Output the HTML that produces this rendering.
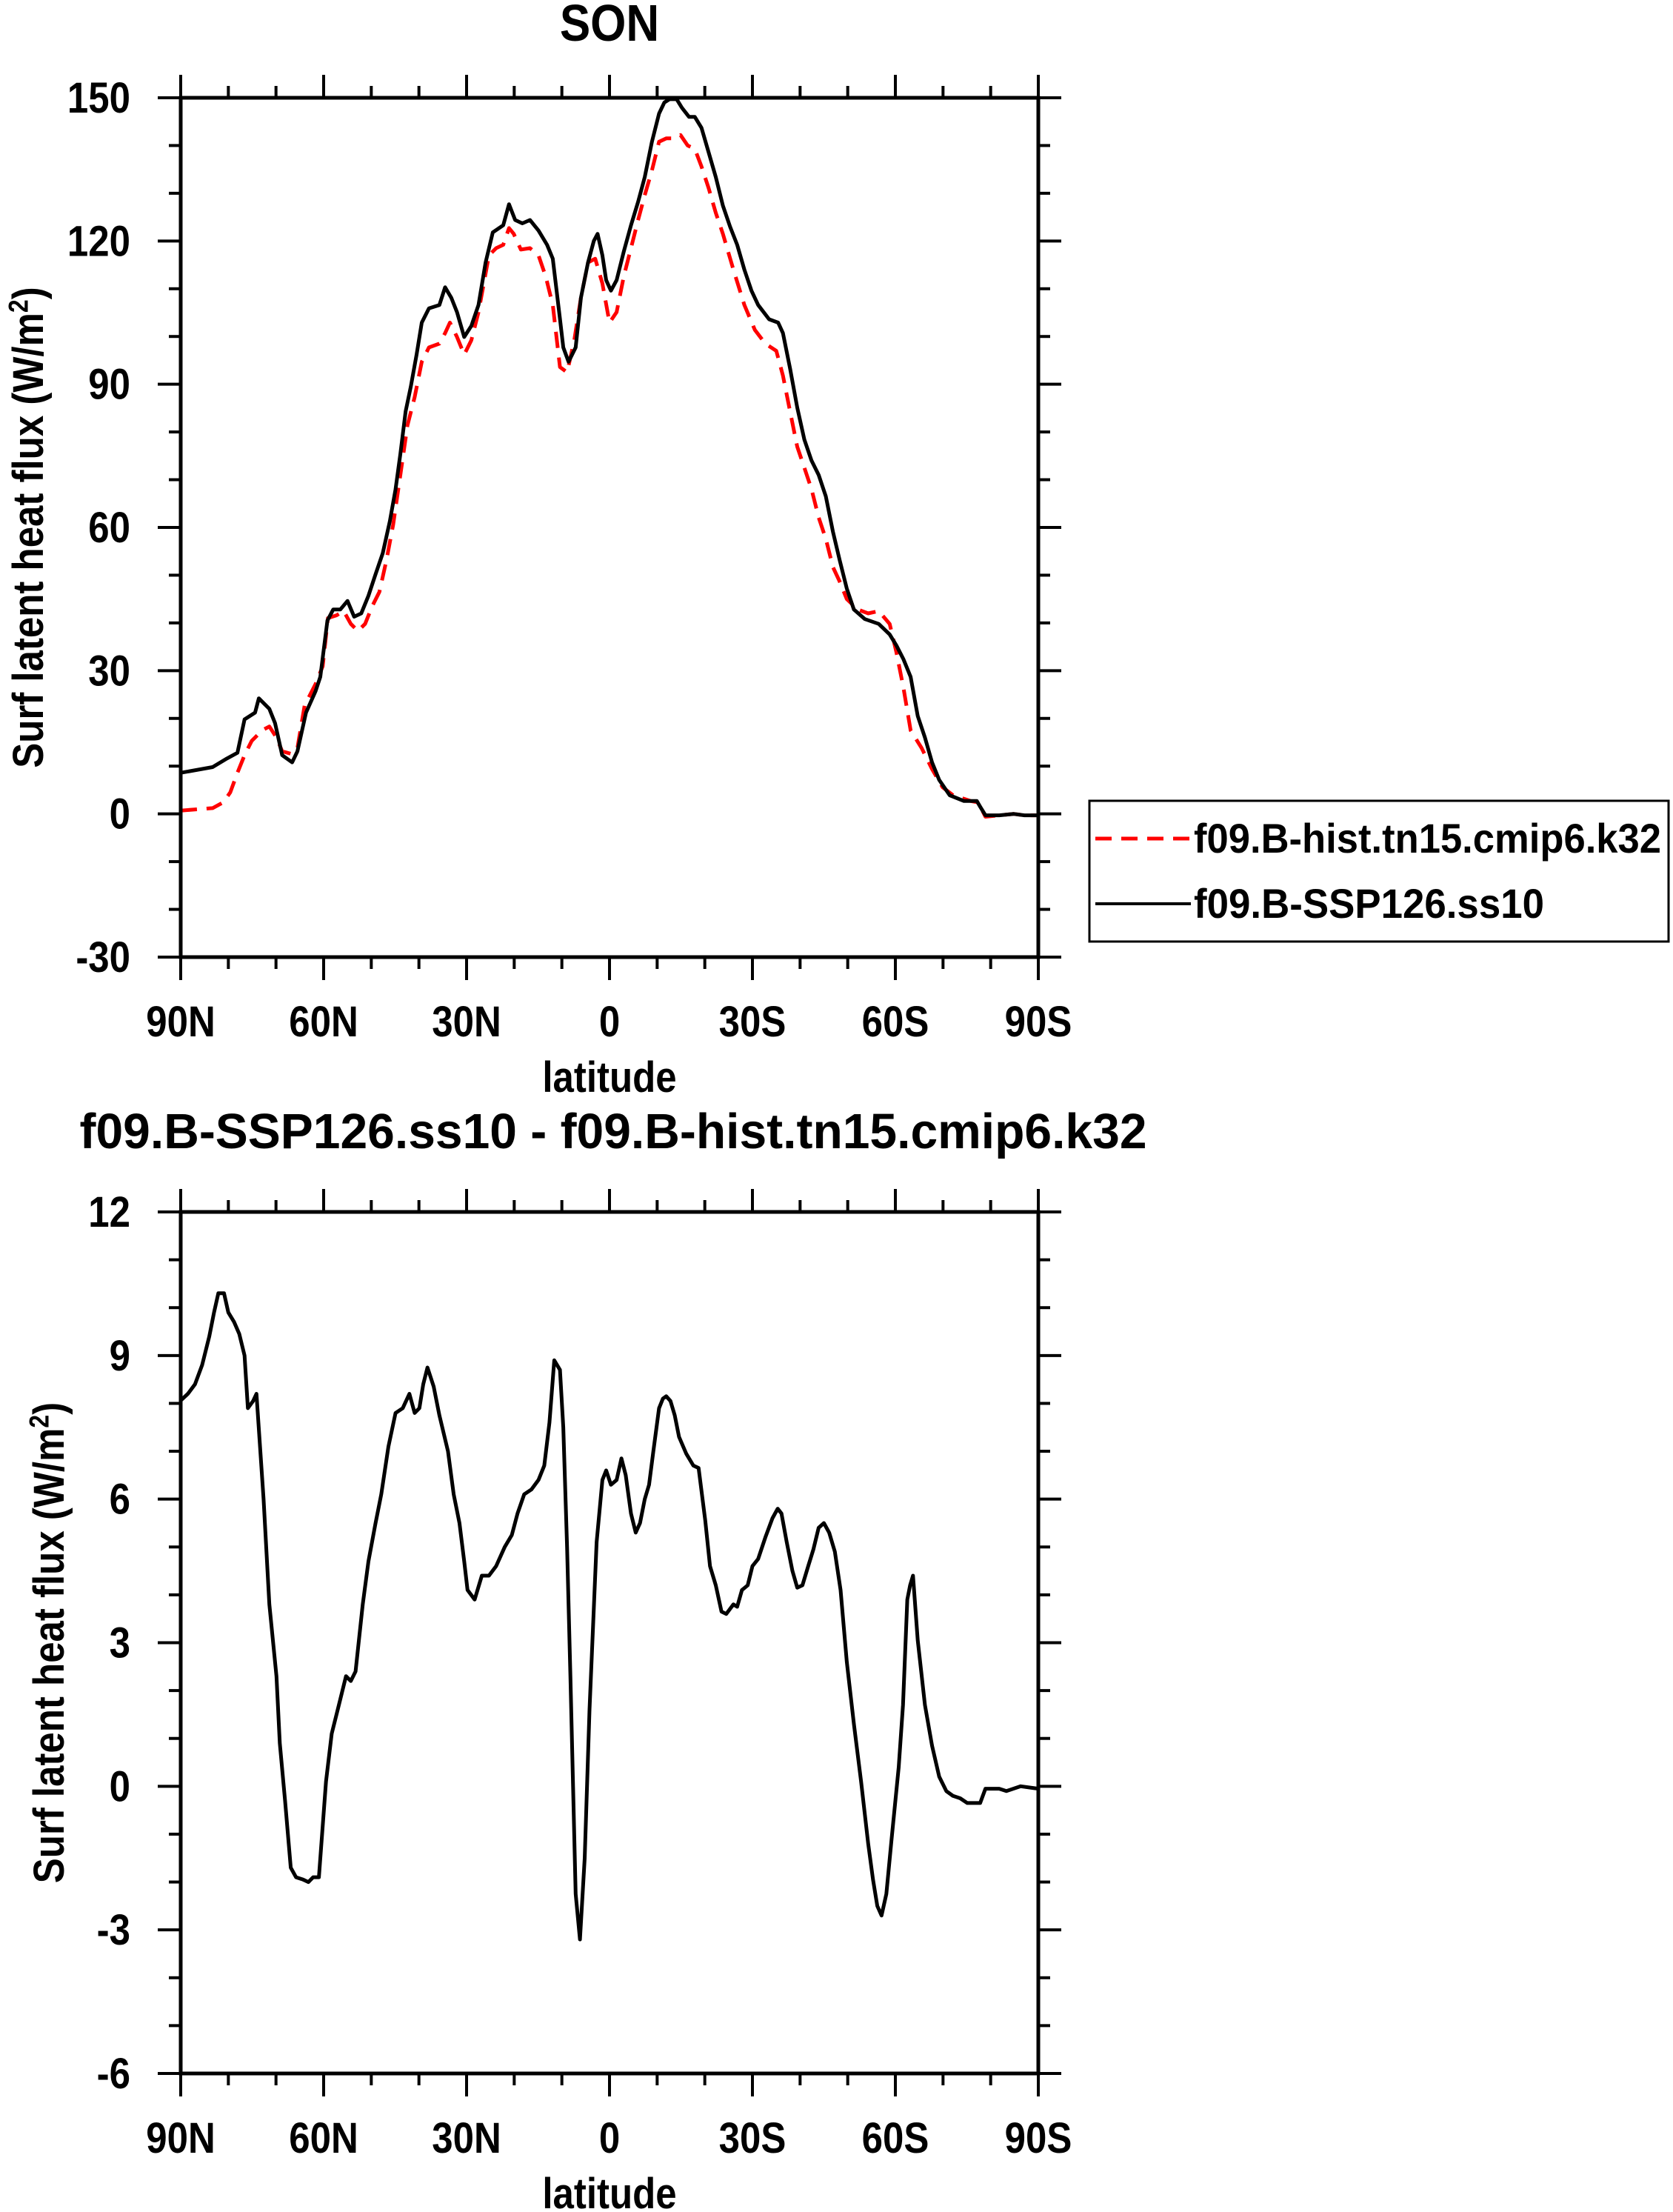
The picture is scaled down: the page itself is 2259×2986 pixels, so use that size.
<!DOCTYPE html>
<html><head><meta charset="utf-8"><title>SON latent heat flux</title>
<style>
html,body{margin:0;padding:0;background:#fff;}
svg{display:block;font-family:"Liberation Sans",Arial,sans-serif;font-weight:bold;}
</style></head>
<body>
<svg id="chart" width="2259" height="2986" viewBox="0 0 2259 2986" xmlns="http://www.w3.org/2000/svg">
<rect x="0" y="0" width="2259" height="2986" fill="#fff"/>
<text transform="translate(823,55) scale(1,1.12)" font-size="62" text-anchor="middle">SON</text>
<text transform="translate(828,1550) scale(1,1.12)" font-size="60" text-anchor="middle" textLength="1441" lengthAdjust="spacingAndGlyphs">f09.B-SSP126.ss10 - f09.B-hist.tn15.cmip6.k32</text>
<g id="legend">
<rect x="1471" y="1081" width="782" height="190" fill="none" stroke="#000" stroke-width="3"/>
<line x1="1479" y1="1132" x2="1608" y2="1132" stroke="#f00" stroke-width="5" stroke-dasharray="22,13"/>
<text transform="translate(1612,1151) scale(1,1.12)" font-size="50" textLength="631" lengthAdjust="spacingAndGlyphs">f09.B-hist.tn15.cmip6.k32</text>
<line x1="1479" y1="1220" x2="1608" y2="1220" stroke="#000" stroke-width="4"/>
<text transform="translate(1612,1239) scale(1,1.12)" font-size="50" textLength="473" lengthAdjust="spacingAndGlyphs">f09.B-SSP126.ss10</text>
</g>
</svg>
<script>
const histLat=[90,83.3,81.1,79.6,78.1,76.6,75.1,72.9,71.4,69.9,68.7,66.9,65.5,64.0,61.7,60.2,59.1,57.3,55.8,54.3,52.8,51.3,49.8,48.3,46.8,45.4,43.9,42.4,40.9,39.4,37.9,35.7,34.5,33.5,32.0,30.5,29.0,27.5,25.3,23.8,22.3,21.1,20.1,18.6,16.7,14.9,13.4,11.9,10.4,8.9,7.4,6.0,4.5,3.0,1.5,0,-1.5,-3.0,-4.5,-6.0,-7.4,-8.9,-10.4,-11.9,-13.4,-14.9,-16.4,-17.9,-19.3,-20.8,-22.3,-23.8,-26.0,-28.3,-30.5,-32.7,-35.0,-36.4,-37.9,-39.4,-40.9,-42.4,-43.9,-45.4,-46.9,-48.3,-49.8,-52.1,-54.3,-56.5,-58.8,-60.2,-61.7,-63.2,-65.5,-67.7,-69.9,-72.1,-75.8,-77.4,-78.9,-81.8,-84.8,-87.1,-90];
const histVal=[0.7,1.2,2.4,4.5,8.6,12.3,15.3,17.5,18.3,16.0,13.1,12.6,13.8,22.7,27.2,30.9,41.0,41.6,42.5,39.8,38.3,39.8,43.5,46.5,53.2,60.6,71.0,81.4,87.3,94.7,97.7,98.5,100.7,102.9,99.9,96.2,99.2,105.1,117.0,118.5,119.2,122.7,121.5,118.2,118.5,117.0,112.6,106.6,93.6,92.5,99.2,108.1,115.5,116.3,111.1,102.9,105.1,112.6,118.5,124.4,129.6,134.8,140.8,141.5,141.5,142.2,140.0,139.3,135.6,131.1,125.9,121.5,114.0,106.6,101.4,98.5,97.0,91.8,84.3,76.9,72.5,68.0,62.1,57.6,51.7,48.7,45.0,42.8,42.0,42.5,39.8,33.9,26.4,17.5,13.8,9.4,5.6,3.9,2.7,2.4,-0.6,-0.3,0,-0.3,-0.3];
const sspLat=[90,83.3,80.3,78.1,76.6,74.4,73.6,71.4,70.2,68.7,66.6,65.5,63.7,61.7,60.7,59.2,58.0,56.5,55.0,53.6,52.1,50.6,49.1,47.6,46.1,44.9,43.9,42.8,41.7,40.5,39.4,37.9,35.7,34.5,33.2,32.0,30.5,29.0,27.5,26.0,24.5,22.3,21.1,19.8,18.3,16.7,14.9,13.1,11.9,10.4,9.7,8.6,7.1,6.0,4.5,3.3,2.5,1.5,0.7,-0.3,-1.5,-3.0,-4.5,-6.0,-7.4,-8.9,-10.4,-11.5,-12.6,-14.1,-15.2,-16.7,-17.9,-19.3,-20.8,-22.3,-23.8,-25.3,-26.8,-28.3,-29.8,-31.2,-33.5,-35.4,-36.4,-37.9,-39.4,-40.9,-42.4,-43.9,-45.4,-46.9,-48.3,-49.8,-51.3,-53.6,-56.5,-58.8,-60.2,-61.7,-63.2,-64.7,-66.2,-67.7,-69.2,-71.4,-74.4,-77.1,-77.8,-78.9,-81.8,-84.8,-87.1,-90];
const sspVal=[8.6,9.8,11.6,12.8,19.8,21.2,24.2,22.0,19.0,12.3,10.8,13.1,21.2,25.7,28.7,40.5,42.8,42.8,44.6,41.3,42.0,45.7,50.2,54.6,61.3,68.0,75.4,84.3,89.5,96.2,102.9,105.9,106.6,110.3,108.1,105.1,99.9,102.2,106.6,115.5,121.8,123.3,127.7,124.4,123.7,124.4,122.2,119.2,116.3,103.7,97.7,94.7,97.7,108.1,115.5,120.0,121.5,117.0,111.8,109.6,111.8,117.8,123.3,128.2,133.4,140.8,146.7,149.0,149.7,149.7,147.9,146.0,146.0,143.7,138.6,133.4,127.4,123.0,119.2,114.0,109.6,106.6,103.6,102.9,100.7,93.3,85.1,78.4,74.0,71.0,66.5,59.1,53.2,47.2,42.8,40.8,39.8,37.6,35.3,32.4,28.7,20.5,16.0,10.8,7.1,3.9,2.7,2.7,1.5,-0.3,-0.3,0,-0.3,-0.3];
const diffLat=[90,88.5,87.0,85.5,84.0,83.0,82.1,80.9,80.0,78.8,77.7,76.6,75.9,74.8,74.1,72.6,71.4,69.9,69.2,68.1,66.9,65.8,64.3,63.2,62.2,61.0,59.5,58.3,56.8,55.3,54.3,53.3,51.8,50.6,49.1,47.9,46.4,44.9,43.4,42.0,40.9,39.9,39.1,38.2,36.9,35.7,33.9,32.7,31.5,30.5,29.8,28.3,26.8,25.3,23.8,22.0,20.5,19.3,17.9,16.4,14.9,13.7,12.6,11.6,10.4,9.7,8.9,8.2,7.1,6.2,5.2,4.2,2.7,1.5,0.7,-0.3,-1.5,-2.5,-3.4,-4.5,-5.5,-6.4,-7.4,-8.3,-9.2,-10.4,-11.2,-11.9,-12.8,-13.7,-14.6,-16.1,-17.6,-18.7,-20.1,-21.1,-22.3,-23.5,-24.5,-26.0,-26.8,-27.8,-29.0,-30.0,-31.2,-32.7,-34.2,-35.3,-36.1,-37.2,-38.4,-39.4,-40.5,-41.7,-42.8,-43.9,-45.0,-46.1,-47.3,-48.5,-49.8,-51.3,-52.8,-54.3,-55.3,-56.2,-57.1,-58.1,-59.2,-60.7,-61.6,-62.5,-63.1,-63.7,-64.7,-66.2,-67.7,-69.2,-70.7,-72.1,-73.6,-75.1,-76.6,-77.8,-78.9,-81.8,-83.3,-86.3,-90];
const diffVal=[8.06,8.2,8.4,8.8,9.4,9.9,10.3,10.3,9.9,9.7,9.45,9.0,7.9,8.05,8.2,6.0,3.8,2.3,0.9,-0.3,-1.7,-1.9,-1.95,-2.0,-1.9,-1.9,0.1,1.1,1.7,2.3,2.2,2.4,3.8,4.7,5.5,6.1,7.1,7.8,7.9,8.2,7.8,7.9,8.4,8.75,8.35,7.75,7.0,6.1,5.5,4.7,4.1,3.9,4.4,4.4,4.6,5.0,5.25,5.7,6.1,6.2,6.4,6.7,7.6,8.9,8.7,7.5,5.0,2.3,-2.25,-3.2,-1.5,1.6,5.1,6.4,6.6,6.3,6.4,6.85,6.5,5.7,5.3,5.5,6.0,6.3,7.0,7.9,8.1,8.15,8.05,7.75,7.3,6.95,6.7,6.65,5.55,4.6,4.2,3.65,3.6,3.8,3.75,4.1,4.2,4.6,4.75,5.2,5.6,5.8,5.7,5.1,4.5,4.15,4.2,4.6,4.95,5.4,5.5,5.3,4.9,4.1,2.6,1.3,0.1,-1.2,-1.95,-2.5,-2.7,-2.25,-1.1,0.4,1.7,3.9,4.2,4.4,3.05,1.7,0.85,0.2,-0.1,-0.2,-0.25,-0.35,-0.35,-0.35,-0.05,-0.05,-0.1,0,-0.05];
const xTickVals=[90,60,30,0,-30,-60,-90];
const xTickLabels=["90N","60N","30N","0","30S","60S","90S"];
const topYTicks=[150,120,90,60,30,0,-30];
const botYTicks=[12,9,6,3,0,-3,-6];

const NS="http://www.w3.org/2000/svg";
const svg=document.getElementById('chart');
function mk(tag,attrs,parent){const e=document.createElementNS(NS,tag);for(const k in attrs)e.setAttribute(k,attrs[k]);(parent||svg).appendChild(e);return e;}
const SY=1.15;

function panel(name,top,bottom,ymin,ymax,yTicks,yMinorStep,titleX,series){
  const L=244,R=1402;
  const xs=lat=>L+(90-lat)/180*(R-L);
  const ys=v=>bottom-(v-ymin)/(ymax-ymin)*(bottom-top);
  const g=mk('g',{});
  
  
  series.forEach(s=>{
    let d='';
    s.lat.forEach((la,i)=>{d+=(i?'L':'M')+xs(la).toFixed(1)+','+ys(s.val[i]).toFixed(1);});
    const p=mk('path',{d:d,fill:'none',stroke:s.color,'stroke-width':5,'stroke-linejoin':'round'},g);
    if(s.dash)p.setAttribute('stroke-dasharray',s.dash);
    
    
  });
  const fr=mk('rect',{x:L,y:top,width:R-L,height:bottom-top,fill:'none',stroke:'#000','stroke-width':5},g);
  
  
  for(let la=90;la>=-90;la-=10){
    const major=la%30===0;const len=major?31:16;const x=xs(la);
    mk('line',{x1:x,y1:bottom,x2:x,y2:bottom+len,stroke:'#000','stroke-width':4},g);
    mk('line',{x1:x,y1:top,x2:x,y2:top-len,stroke:'#000','stroke-width':4},g);
  }
  xTickVals.forEach((la,i)=>{
    const t=mk('text',{transform:'translate('+xs(la)+','+(bottom+107)+') scale(1,'+SY+')','font-size':51,'text-anchor':'middle'},g);
    t.textContent=xTickLabels[i];
    
    
  });
  for(let v=ymax;v>=ymin-1e-9;v-=yMinorStep){
    const major=yTicks.some(t=>Math.abs(t-v)<1e-6);const len=major?31:16;const y=ys(v);
    mk('line',{x1:L,y1:y,x2:L-len,y2:y,stroke:'#000','stroke-width':4},g);
    mk('line',{x1:R,y1:y,x2:R+len,y2:y,stroke:'#000','stroke-width':4},g);
  }
  yTicks.forEach(v=>{
    const t=mk('text',{transform:'translate(176,'+(ys(v)+20)+') scale(1,'+SY+')','font-size':51,'text-anchor':'end'},g);
    t.textContent=String(v);
    
    
  });
  const xt=mk('text',{transform:'translate(823,'+(bottom+182)+') scale(1,'+SY+')','font-size':51,'text-anchor':'middle'},g);
  xt.textContent='latitude';
  
  
  const cy=(top+bottom)/2;
  const yt=mk('text',{transform:'translate('+titleX+','+cy+') rotate(-90) scale(1,'+SY+')','font-size':51,'text-anchor':'middle'},g);
  yt.innerHTML='Surf latent heat flux (W/m<tspan baseline-shift="super" font-size="32">2</tspan>)';
  
  
}
panel('top',132,1292,-30,150,topYTicks,10,58,[
  {lat:histLat,val:histVal,color:'#f00',dash:'22,13',name:'hist-series-line'},
  {lat:sspLat,val:sspVal,color:'#000',name:'ssp126-series-line'}
]);
panel('bottom',1636,2799,-6,12,botYTicks,1,86,[
  {lat:diffLat,val:diffVal,color:'#000',name:'difference-series-line'}
]);
</script>
</body></html>
